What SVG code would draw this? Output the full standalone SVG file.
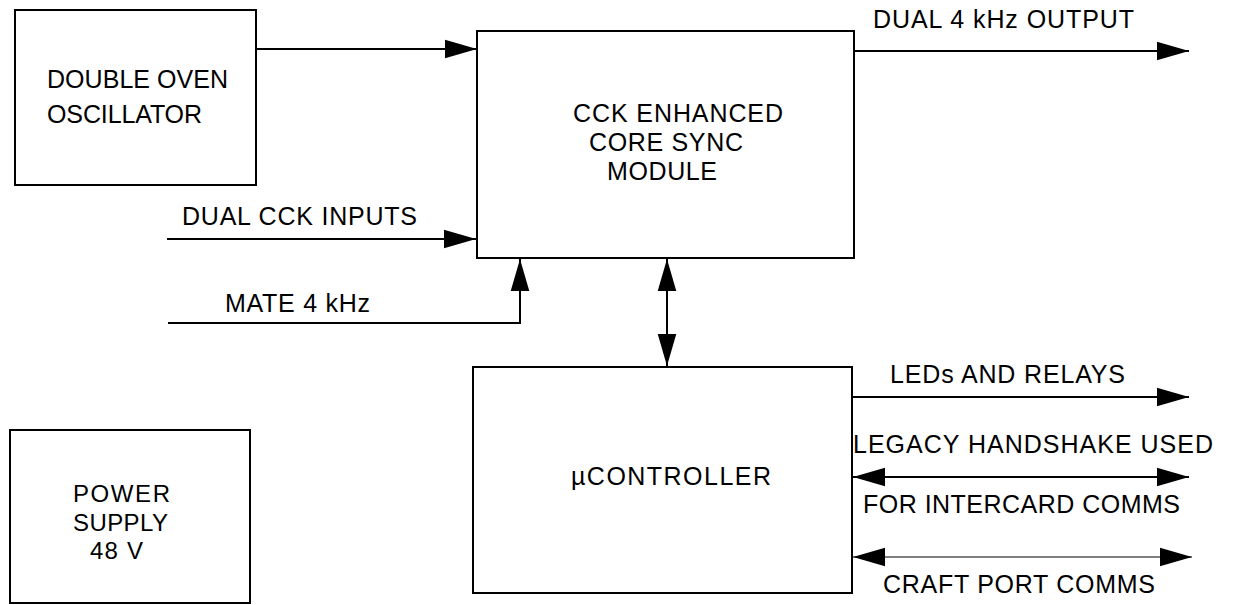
<svg xmlns="http://www.w3.org/2000/svg" width="1235" height="605" viewBox="0 0 1235 605">
<style>
.box{fill:#fff;stroke:#000;stroke-width:2}
.t{font-family:"Liberation Sans",Arial,sans-serif;font-size:25px;fill:#000}
.s{font-size:24px}
.c{fill:none;stroke:#000;stroke-width:2}
.thin{fill:none;stroke:#000;stroke-width:1.2}
</style>
<defs>
<marker id="ah" markerUnits="userSpaceOnUse" markerWidth="32" markerHeight="20" viewBox="0 0 31 18" refX="31" refY="9" orient="auto-start-reverse">
<path d="M0,0 L31,9 L0,18 Z" fill="#000"/>
</marker>
</defs>
<rect width="1235" height="605" fill="#fff"/>
<g id="connectors">
<line class="c" x1="256" y1="49" x2="477" y2="49" marker-end="url(#ah)"/>
<line class="c" x1="167" y1="239" x2="476" y2="239" marker-end="url(#ah)"/>
<polyline class="c" points="168,323 520,323 520,259" marker-end="url(#ah)"/>
<line class="c" x1="854" y1="51" x2="1189" y2="51" marker-end="url(#ah)"/>
<line class="c" x1="667" y1="259" x2="667" y2="366" marker-start="url(#ah)" marker-end="url(#ah)"/>
<line class="c" x1="852" y1="397" x2="1189" y2="397" marker-end="url(#ah)"/>
<line class="c" x1="853" y1="477" x2="1189" y2="477" marker-start="url(#ah)" marker-end="url(#ah)"/>
<line class="thin" x1="853" y1="557" x2="1192" y2="557" marker-start="url(#ah)" marker-end="url(#ah)"/>
<text class="t" x="873" y="28" textLength="261" lengthAdjust="spacing">DUAL 4 kHz OUTPUT</text>
<text class="t" x="182" y="225" textLength="235" lengthAdjust="spacing">DUAL CCK INPUTS</text>
<text class="t" x="225" y="312" textLength="145" lengthAdjust="spacing">MATE 4 kHz</text>
<text class="t" x="890" y="383" textLength="235" lengthAdjust="spacing">LEDs AND RELAYS</text>
<text class="t" x="853" y="453" textLength="360" lengthAdjust="spacing">LEGACY HANDSHAKE USED</text>
<text class="t" x="863" y="513" textLength="317" lengthAdjust="spacing">FOR INTERCARD COMMS</text>
<text class="t" x="883" y="593" textLength="272" lengthAdjust="spacing">CRAFT PORT COMMS</text>
</g>
<g id="oscillator">
<rect class="box" x="15" y="10" width="241" height="175"/>
<text class="t" x="47" y="88" textLength="181" lengthAdjust="spacing">DOUBLE OVEN</text>
<text class="t" x="47" y="123" textLength="155" lengthAdjust="spacing">OSCILLATOR</text>
</g>
<g id="core-sync">
<rect class="box" x="477" y="31" width="377" height="227"/>
<text class="t" x="573" y="122" textLength="210" lengthAdjust="spacing">CCK ENHANCED</text>
<text class="t" x="589" y="151" textLength="154" lengthAdjust="spacing">CORE SYNC</text>
<text class="t" x="607" y="180" textLength="110" lengthAdjust="spacing">MODULE</text>
</g>
<g id="controller">
<rect class="box" x="473" y="367" width="379" height="226"/>
<text class="t" x="571" y="485" textLength="200" lengthAdjust="spacing">µCONTROLLER</text>
</g>
<g id="power-supply">
<rect class="box" x="10" y="430" width="240" height="173"/>
<text class="t s" x="73" y="502" textLength="97" lengthAdjust="spacing">POWER</text>
<text class="t s" x="73" y="531" textLength="95" lengthAdjust="spacing">SUPPLY</text>
<text class="t s" x="90" y="559" textLength="53" lengthAdjust="spacing">48 V</text>
</g>
</svg>
